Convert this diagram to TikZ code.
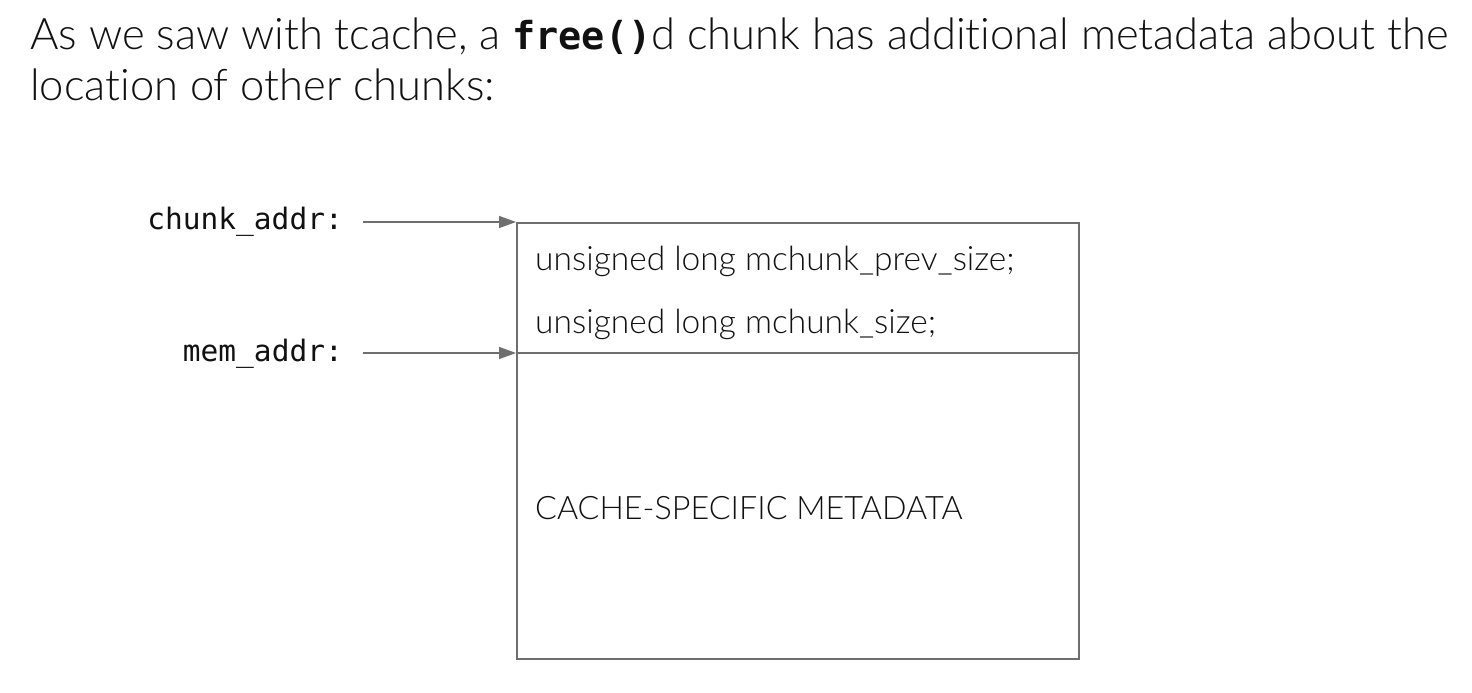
\documentclass[tikz,border=0pt]{standalone}
\usepackage{fontspec}
\setmainfont{Lato}[UprightFont={* Light},BoldFont={* Regular},Ligatures=NoCommon]
\setmonofont{DejaVu Sans Mono}
\usetikzlibrary{arrows.meta}
\definecolor{linegray}{HTML}{6E6E6E}
\definecolor{inkblack}{HTML}{111111}
\begin{document}
\begin{tikzpicture}[x=1pt,y=-1pt,
  every node/.style={inner sep=0pt, text=inkblack},
  headline/.style={anchor=base west, font=\fontsize{43.5}{50}\selectfont},
  fieldtext/.style={anchor=base west, font=\fontsize{33.5}{38}\selectfont},
  metatext/.style={anchor=base west, font=\fontsize{32.3}{38}\selectfont},
  addrlabel/.style={anchor=base east, font=\ttfamily\fontsize{29.5}{34}\selectfont},
  chunkbox/.style={draw=linegray, line width=1.6pt, anchor=north west,
    minimum width=562pt, minimum height=436pt},
  pointer/.style={draw=linegray, line width=1.4pt,
    -{Triangle[length=17pt,width=12pt,fill=linegray]}}]
\useasboundingbox[fill=white] (0,0) rectangle (1472,693);

% heading
\node[headline] (title1) at (30,50)
  {As we saw with tcache, a {\ttfamily\bfseries\fontsize{38.5}{50}\selectfont free()}d chunk has additional metadata about the};
\node[headline] (title2) at (30,100) {location of other chunks:};

% the free chunk and its header split
\node[chunkbox] (chunk) at (516,222) {};
\coordinate (split) at (516,353);
\draw[draw=linegray, line width=1.6pt] (split) -- (split -| chunk.east);

% fields
\node[fieldtext] (prevsize) at (535,270) {unsigned long mchunk\_prev\_size;};
\node[fieldtext] (size) at (535,333) {unsigned long mchunk\_size;};
\node[metatext] (meta) at (535,519) {CACHE-SPECIFIC METADATA};

% address labels and their pointers
\node[addrlabel] (chunkaddr) at (343,229) {chunk\_addr:};
\node[addrlabel] (memaddr) at (343,361) {mem\_addr:};
\draw[pointer] ([xshift=20pt]chunkaddr.east |- chunk.north west) -- (chunk.north west);
\draw[pointer] ([xshift=20pt]memaddr.east |- split) -- (split);
\end{tikzpicture}
\end{document}
